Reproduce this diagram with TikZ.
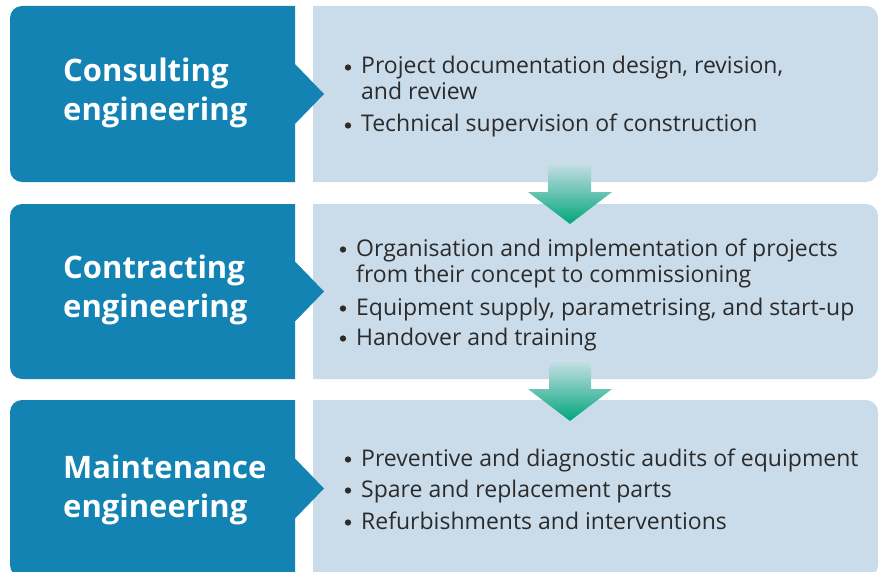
\documentclass[tikz,border=0pt]{standalone}
\usepackage{fontspec}
\setmainfont{Open Sans}
\definecolor{darkbox}{HTML}{1283B2}
\definecolor{lightbox}{HTML}{CADCEA}
\definecolor{bodytext}{HTML}{2B2B2B}
\definecolor{arrowtop}{HTML}{CBE0E8}
\definecolor{arrowbot}{HTML}{00A67A}
\tikzset{
  title/.style={anchor=base west, inner sep=0pt, text=white, font=\fontsize{31}{36}\selectfont\bfseries},
  item/.style={anchor=base west, inner sep=0pt, text=bodytext, font=\fontsize{23}{27}\selectfont},
  bulletdot/.style={circle, fill=bodytext, inner sep=0pt, minimum size=6.3pt},
  flowarrow/.style={top color=arrowtop, bottom color=arrowbot, draw=none}
}
\newcommand{\darkshape}[2]{% top, bottom
  \fill[darkbox] (295,-#1) -- (22,-#1) arc[start angle=90,end angle=180,radius=12pt]
    -- (10,-#2+12) arc[start angle=180,end angle=270,radius=12pt]
    -- (295,-#2) -- (295,{-(#1+#2)/2-30}) -- (324,{-(#1+#2)/2}) -- (295,{-(#1+#2)/2+30}) -- cycle;}
\newcommand{\lightshape}[2]{%
  \fill[lightbox] (313,-#1) -- (866,-#1) arc[start angle=90,end angle=0,radius=12pt]
    -- (878,-#2+12) arc[start angle=0,end angle=-90,radius=12pt]
    -- (313,-#2) -- cycle;}
\begin{document}
\begin{tikzpicture}[x=1pt,y=1pt]
\useasboundingbox (0,0) rectangle (885,-572);
\begin{scope}
\clip (0,0) rectangle (885,-572);
% row boxes
\lightshape{6}{182}
\darkshape{6}{182}
\lightshape{204}{379}
\darkshape{204}{379}
\lightshape{400}{577}
\darkshape{400}{577}
\end{scope}
% arrows between rows
\path[flowarrow] (548,-162) -- (591,-162) -- (591,-192) -- (612,-192) -- (570,-224) -- (528,-192) -- (548,-192) -- cycle;
\path[flowarrow] (549,-360) -- (591,-360) -- (591,-389) -- (612,-389) -- (570,-421) -- (528,-389) -- (549,-389) -- cycle;
% row 1
\node[title] (t1a) at (63,-82) {Consulting};
\node[title] (t1b) at (63,-121) {engineering};
\node[bulletdot] (b1a) at (348,-67.5) {};
\node[item] (i1a) at (361,-74) {Project documentation design, revision,};
\node[item] (i1b) at (361,-100) {and review};
\node[bulletdot] (b1b) at (348,-125.5) {};
\node[item] (i1c) at (361,-132) {Technical supervision of construction};
% row 2
\node[title] (t2a) at (63,-278) {Contracting};
\node[title] (t2b) at (63,-317) {engineering};
\node[bulletdot] (b2a) at (343,-249.5) {};
\node[item] (i2a) at (356,-256) {Organisation and implementation of projects};
\node[item] (i2b) at (356,-282) {from their concept to commissioning};
\node[bulletdot] (b2b) at (343,-308.5) {};
\node[item] (i2c) at (356,-315) {Equipment supply, parametrising, and start-up};
\node[bulletdot] (b2c) at (343,-338.5) {};
\node[item] (i2d) at (356,-345) {Handover and training};
% row 3
\node[title] (t3a) at (63,-478) {Maintenance};
\node[title] (t3b) at (63,-517) {engineering};
\node[bulletdot] (b3a) at (348,-459.5) {};
\node[item] (i3a) at (361,-466) {Preventive and diagnostic audits of equipment};
\node[bulletdot] (b3b) at (348,-490.5) {};
\node[item] (i3b) at (361,-497) {Spare and replacement parts};
\node[bulletdot] (b3c) at (348,-522.5) {};
\node[item] (i3c) at (361,-529) {Refurbishments and interventions};
\end{tikzpicture}
\end{document}
